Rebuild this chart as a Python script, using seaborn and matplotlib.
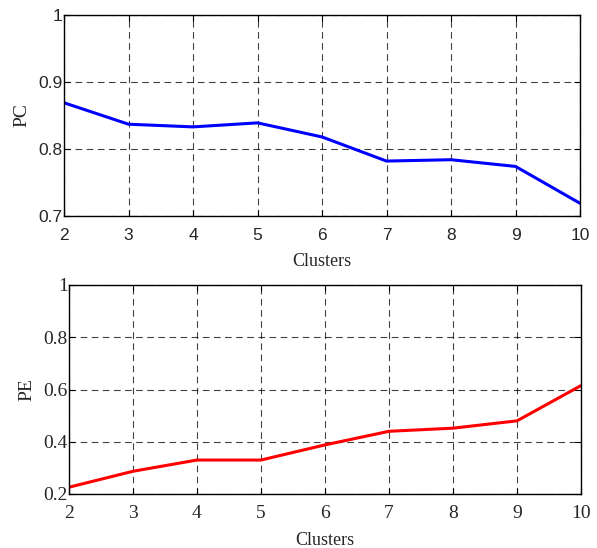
import numpy as np
import pandas as pd
import seaborn as sns
import matplotlib.pyplot as plt

clusters = [2, 3, 4, 5, 6, 7, 8, 9, 10]
pc_values = [0.869, 0.837, 0.833, 0.839, 0.818, 0.782, 0.784, 0.774, 0.719]
pe_values = [0.226, 0.287, 0.330, 0.330, 0.388, 0.440, 0.452, 0.480, 0.615]

sns.set_style("ticks")
plt.rcParams['xtick.direction'] = 'in'
plt.rcParams['ytick.direction'] = 'in'

df = pd.DataFrame({"Clusters": clusters, "PC": pc_values, "PE": pe_values})

fig = plt.figure(figsize=(5.97, 5.48), dpi=100)
W, H = 597, 548
ax1 = fig.add_axes([64 / W, 1 - 216 / H, (580 - 64) / W, (216 - 15) / H])
ax2 = fig.add_axes([69 / W, 1 - 494 / H, (581 - 69) / W, (494 - 285) / H])

serif = ['Liberation Serif', 'DejaVu Serif']
sans = ['Liberation Sans', 'DejaVu Sans']

sns.lineplot(data=df, x="Clusters", y="PC", ax=ax1, color="#0000ff", linewidth=2.2)
sns.lineplot(data=df, x="Clusters", y="PE", ax=ax2, color="#ff0000", linewidth=2.2)


def style_axis(ax, ylim, yticks, ylabels, tick_font, tick_size, xpad):
    ax.set_xlim(2, 10)
    ax.set_ylim(*ylim)
    ax.set_xticks(clusters)
    ax.set_yticks(yticks)
    ax.set_xticklabels([str(c) for c in clusters], family=tick_font, fontsize=tick_size)
    ax.set_yticklabels(ylabels, family=tick_font, fontsize=tick_size)
    ax.grid(True, linestyle=(0, (6, 4)), color='black', linewidth=0.8, alpha=0.75)
    ax.tick_params(top=True, right=True, length=4, width=0.8, color='black')
    ax.tick_params(axis='x', pad=xpad)
    ax.tick_params(axis='y', pad=1)
    for s in ax.spines.values():
        s.set_visible(True)
        s.set_linewidth(1.0)
        s.set_color('black')
    ax.set_xlabel("Clusters", family=serif, fontsize=13, labelpad=7)


style_axis(ax1, (0.7, 1.0), [0.7, 0.8, 0.9, 1.0], ["0.7", "0.8", "0.9", "1"], sans, 12.5, 9)
ax1.set_ylabel("PC", family=serif, fontsize=14, labelpad=6)

style_axis(ax2, (0.2, 1.0), [0.2, 0.4, 0.6, 0.8, 1.0], ["0.2", "0.4", "0.6", "0.8", "1"], serif, 14, 8)
ax2.set_ylabel("PE", family=serif, fontsize=14, labelpad=6)

fig.savefig("out.png", dpi=100)
